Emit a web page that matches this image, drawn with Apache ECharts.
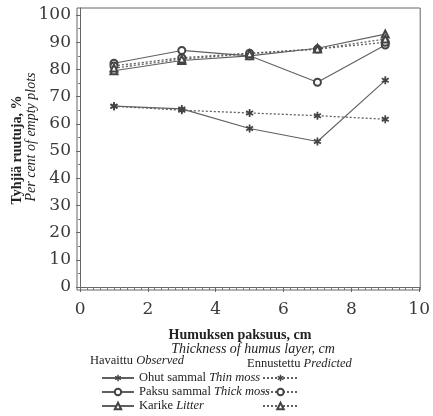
<!DOCTYPE html>
<html>
<head>
<meta charset="utf-8">
<script src="https://cdn.jsdelivr.net/npm/echarts@6/dist/echarts.min.js"></script>
<style>
html,body{margin:0;padding:0;background:#fff;}
#c{width:433px;height:416px;}
</style>
</head>
<body>
<div id="c"></div>
<script>
// ---- data ----
const thickness = [1, 3, 5, 7, 9];
const thinObserved   = [66.5, 65.5, 58.3, 53.5, 76.0];
const thinPredicted  = [66.5, 65.0, 64.0, 63.0, 61.7];
const thickObserved  = [82.3, 87.0, 85.0, 75.3, 89.0];
const thickPredicted = [81.3, 84.3, 86.0, 87.5, 90.0];
const litterObserved = [79.5, 83.3, 85.0, 87.8, 93.0];
const litterPredicted= [80.5, 83.8, 85.8, 87.5, 91.2];
const xTickLabels = [0, 2, 4, 6, 8, 10];
const yTickLabels = [0, 10, 20, 30, 40, 50, 60, 70, 80, 90, 100];
const yMinorTicks = [5, 15, 25, 35, 45, 55, 65, 75, 85, 95];
const xMinorTicks = [];
for (let i = 0; i <= 50; i++) { if (i % 10 !== 0) xMinorTicks.push(+(i * 0.2).toFixed(1)); }

const names = {
  thinObs: 'Ohut sammal {i|Thin moss}',
  thickObs: 'Paksu sammal {i|Thick moss}',
  litterObs: 'Karike {i|Litter}'
};

const pair = (xs, ys) => xs.map((x, i) => [x, ys[i]]);
const STAR = 'path://M-1.1,-5L1.1,-5L1.1,5L-1.1,5Z M-4.88,-1.55L-3.78,-3.45L4.88,1.55L3.78,3.45Z M3.78,-3.45L4.88,-1.55L-3.78,3.45L-4.88,1.55Z';
const LINE = '#606060';
const SERIF = '"DejaVu Serif", serif';
const TIMES = '"Liberation Serif", serif';

function mk(name, data, symbol, dotted) {
  return {
    name: name, type: 'line', xAxisIndex: 0, yAxisIndex: 0,
    data: data,
    symbol: symbol, symbolSize: symbol === STAR ? 8 : 7, symbolKeepAspect: true,
    lineStyle: { color: LINE, width: dotted ? 1.3 : 1.1, type: dotted ? [2, 2] : 'solid' },
    itemStyle: { color: '#444', borderWidth: 0.9 },
    emphasis: { disabled: true }, animation: false
  };
}

const chart = echarts.init(document.getElementById('c'));
const yMin = -1.1, yMax = 102.6, xMin = -0.09, xMax = 10.03;
chart.setOption({
  backgroundColor: '#fff',
  animation: false,
  grid: { left: 77, right: 9, top: 8, bottom: 126, show: true, borderColor: '#666', borderWidth: 1, backgroundColor: 'transparent' },
  xAxis: [
    { type: 'value', min: xMin, max: xMax, position: 'bottom',
      axisLine: { show: true, lineStyle: { color: '#666', width: 1 } },
      axisTick: { show: true, customValues: xTickLabels, length: 5, lineStyle: { color: '#666' } },
      axisLabel: { customValues: xTickLabels, margin: 11, fontFamily: SERIF, fontSize: 17, color: '#3a3a3a' },
      splitLine: { show: false } },
    { type: 'value', min: xMin, max: xMax, position: 'bottom',
      axisLine: { show: false },
      axisTick: { show: true, customValues: xMinorTicks, length: 3, lineStyle: { color: '#777' } },
      axisLabel: { show: false }, splitLine: { show: false } }
  ],
  yAxis: [
    { type: 'value', min: yMin, max: yMax, position: 'left',
      axisLine: { show: true, lineStyle: { color: '#666', width: 1 } },
      axisTick: { show: true, customValues: yTickLabels, length: 4, lineStyle: { color: '#666' } },
      axisLabel: { customValues: yTickLabels, margin: 6, fontFamily: SERIF, fontSize: 17, color: '#3a3a3a' },
      splitLine: { show: false } },
    { type: 'value', min: yMin, max: yMax, position: 'left',
      axisLine: { show: false },
      axisTick: { show: true, customValues: yMinorTicks, length: 2, lineStyle: { color: '#777' } },
      axisLabel: { show: false }, splitLine: { show: false } }
  ],
  legend: [
    { data: ['thinObs', 'thickObs', 'litterObs'], orient: 'vertical', left: 101, top: 371, height: 80,
      padding: 0, itemGap: 0, itemWidth: 32, itemHeight: 8, selectedMode: false,
      formatter: n => names[n],
      textStyle: { fontFamily: TIMES, fontSize: 12.5, lineHeight: 14, color: '#222',
        rich: { i: { fontFamily: TIMES, fontStyle: 'italic', fontSize: 12.5, lineHeight: 14, color: '#222' } } } },
    { data: ['thinPred', 'thickPred', 'litterPred'], orient: 'vertical', left: 262, top: 371, height: 80,
      padding: 0, itemGap: 0, itemWidth: 35, itemHeight: 8, selectedMode: false,
      formatter: () => ' ',
      textStyle: { fontFamily: TIMES, fontSize: 12.5, lineHeight: 14 } }
  ],
  series: [
    mk('thinObs', pair(thickness, thinObserved), STAR, false),
    mk('thinPred', pair(thickness, thinPredicted), STAR, true),
    mk('thickObs', pair(thickness, thickObserved), 'emptyCircle', false),
    mk('thickPred', pair(thickness, thickPredicted), 'emptyCircle', true),
    mk('litterObs', pair(thickness, litterObserved), 'emptyTriangle', false),
    mk('litterPred', pair(thickness, litterPredicted), 'emptyTriangle', true)
  ],
  graphic: [
    { type: 'text', x: 17, y: 150, rotation: Math.PI / 2,
      style: { text: 'Tyhjiä ruutuja, %', fontFamily: TIMES, fontWeight: 'bold', fontSize: 14, fill: '#222', align: 'center', verticalAlign: 'middle' } },
    { type: 'text', x: 31, y: 137, rotation: Math.PI / 2,
      style: { text: 'Per cent of empty plots', fontFamily: TIMES, fontStyle: 'italic', fontSize: 14, fill: '#222', align: 'center', verticalAlign: 'middle' } },
    { type: 'text', x: 240, y: 335,
      style: { text: 'Humuksen paksuus, cm', fontFamily: TIMES, fontWeight: 'bold', fontSize: 14, fill: '#222', align: 'center', verticalAlign: 'middle' } },
    { type: 'text', x: 253, y: 349,
      style: { text: 'Thickness of humus layer, cm', fontFamily: TIMES, fontStyle: 'italic', fontSize: 14, fill: '#222', align: 'center', verticalAlign: 'middle' } },
    { type: 'text', x: 90, y: 361,
      style: { text: 'Havaittu {i|Observed}', fontFamily: TIMES, fontSize: 12.5, fill: '#222', align: 'left', verticalAlign: 'middle',
        rich: { i: { fontFamily: TIMES, fontStyle: 'italic', fontSize: 12.5, fill: '#222' } } } },
    { type: 'text', x: 247, y: 364,
      style: { text: 'Ennustettu {i|Predicted}', fontFamily: TIMES, fontSize: 12.5, fill: '#222', align: 'left', verticalAlign: 'middle',
        rich: { i: { fontFamily: TIMES, fontStyle: 'italic', fontSize: 12.5, fill: '#222' } } } }
  ]
});
</script>
</body>
</html>
